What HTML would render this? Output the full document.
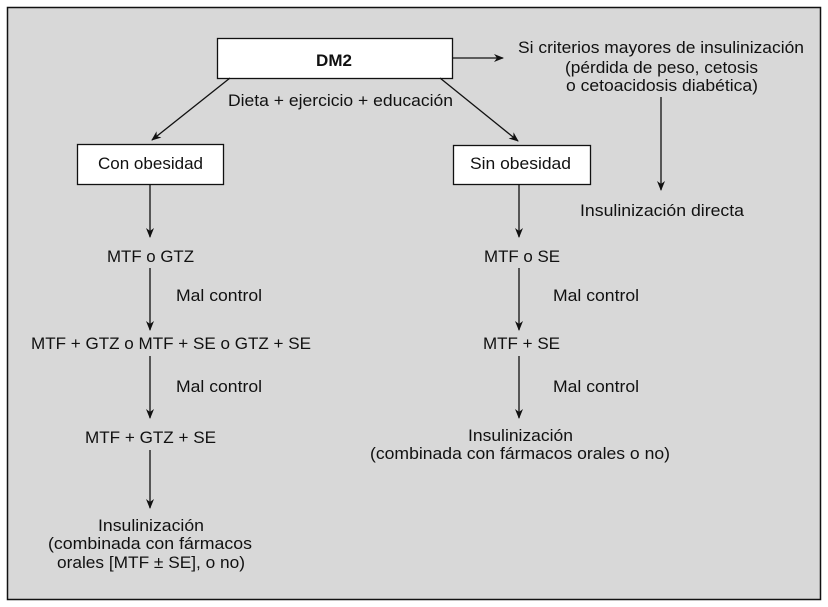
<!DOCTYPE html>
<html><head><meta charset="utf-8"><style>
html,body{margin:0;padding:0;background:#fff}
svg{display:block}
text{font-family:"Liberation Sans Narrow","Liberation Sans",sans-serif;font-size:17px;fill:#111}
</style></head><body>
<svg width="828" height="607" viewBox="0 0 828 607" xmlns="http://www.w3.org/2000/svg">
<defs><marker id="a" markerWidth="10" markerHeight="8" refX="9" refY="4" orient="auto" markerUnits="userSpaceOnUse"><path d="M0,0 L10,4 L0,8 L3,4 Z" fill="#111"/></marker></defs>
<rect x="7.5" y="7.5" width="813" height="592" fill="#d8d8d8" stroke="#111" stroke-width="1.5"/>
<g stroke="#111" stroke-width="1.3" fill="none">
<rect x="217.5" y="38.5" width="235" height="40" fill="#fff"/>
<rect x="77.5" y="144.5" width="146" height="40" fill="#fff"/>
<rect x="453.5" y="145.5" width="137" height="39" fill="#fff"/>
<line x1="452" y1="58" x2="503" y2="58" marker-end="url(#a)"/>
<line x1="661" y1="97" x2="661" y2="190" marker-end="url(#a)"/>
<line x1="230" y1="78" x2="152" y2="140" marker-end="url(#a)"/>
<line x1="440" y1="78" x2="518" y2="141" marker-end="url(#a)"/>
<line x1="150" y1="184" x2="150" y2="237" marker-end="url(#a)"/>
<line x1="150" y1="268" x2="150" y2="330" marker-end="url(#a)"/>
<line x1="150" y1="356" x2="150" y2="418" marker-end="url(#a)"/>
<line x1="150" y1="450" x2="150" y2="508" marker-end="url(#a)"/>
<line x1="519" y1="184" x2="519" y2="237" marker-end="url(#a)"/>
<line x1="519" y1="268" x2="519" y2="330" marker-end="url(#a)"/>
<line x1="519" y1="356" x2="519" y2="418" marker-end="url(#a)"/>
</g>
<text x="334" y="66" text-anchor="middle" font-weight="bold">DM2</text>
<text x="518" y="53" textLength="286" lengthAdjust="spacingAndGlyphs">Si criterios mayores de insulinización</text>
<text x="565" y="73" textLength="193" lengthAdjust="spacingAndGlyphs">(pérdida de peso, cetosis</text>
<text x="566" y="91" textLength="192" lengthAdjust="spacingAndGlyphs">o cetoacidosis diabética)</text>
<text x="580" y="216" textLength="164" lengthAdjust="spacingAndGlyphs">Insulinización directa</text>
<text x="228" y="106" textLength="225" lengthAdjust="spacingAndGlyphs">Dieta + ejercicio + educación</text>
<text x="98" y="169" textLength="105" lengthAdjust="spacingAndGlyphs">Con obesidad</text>
<text x="470" y="169" textLength="101" lengthAdjust="spacingAndGlyphs">Sin obesidad</text>
<text x="107" y="262" textLength="87" lengthAdjust="spacingAndGlyphs">MTF o GTZ</text>
<text x="176" y="301" textLength="86" lengthAdjust="spacingAndGlyphs">Mal control</text>
<text x="31" y="349" textLength="280" lengthAdjust="spacingAndGlyphs">MTF + GTZ o MTF + SE o GTZ + SE</text>
<text x="176" y="392" textLength="86" lengthAdjust="spacingAndGlyphs">Mal control</text>
<text x="85" y="443" textLength="131" lengthAdjust="spacingAndGlyphs">MTF + GTZ + SE</text>
<text x="98" y="531" textLength="106" lengthAdjust="spacingAndGlyphs">Insulinización</text>
<text x="48" y="549" textLength="204" lengthAdjust="spacingAndGlyphs">(combinada con fármacos</text>
<text x="57" y="568" textLength="188" lengthAdjust="spacingAndGlyphs">orales [MTF ± SE], o no)</text>
<text x="484" y="262" textLength="76" lengthAdjust="spacingAndGlyphs">MTF o SE</text>
<text x="553" y="301" textLength="86" lengthAdjust="spacingAndGlyphs">Mal control</text>
<text x="483" y="349" textLength="77" lengthAdjust="spacingAndGlyphs">MTF + SE</text>
<text x="553" y="392" textLength="86" lengthAdjust="spacingAndGlyphs">Mal control</text>
<text x="468" y="441" textLength="105" lengthAdjust="spacingAndGlyphs">Insulinización</text>
<text x="370" y="459" textLength="300" lengthAdjust="spacingAndGlyphs">(combinada con fármacos orales o no)</text>
</svg>
</body></html>
